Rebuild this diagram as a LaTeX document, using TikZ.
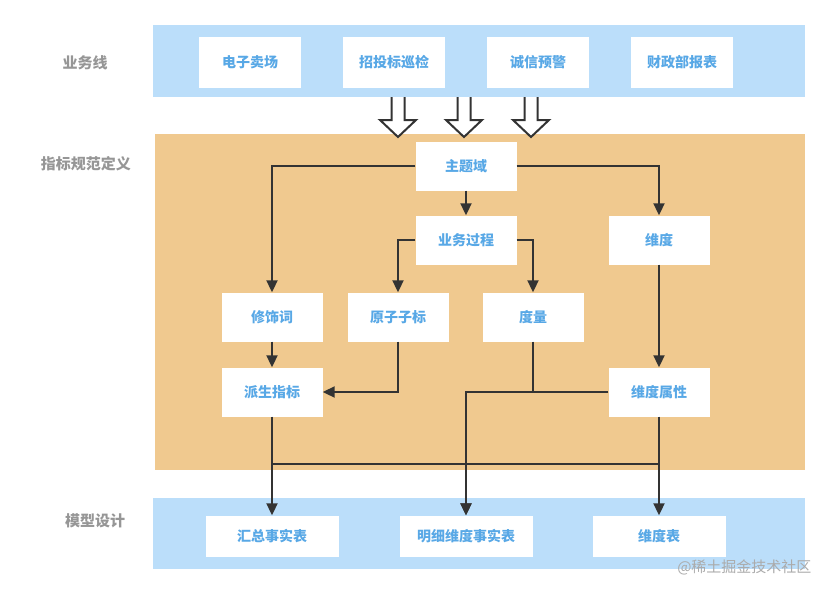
\documentclass[tikz,border=0pt]{standalone}
\usepackage{fontspec}
\setmainfont{Noto Sans CJK SC}
\usepackage{xcolor}
\usetikzlibrary{arrows.meta, calc}

\definecolor{bandblue}{RGB}{187,222,250}
\definecolor{bandorange}{RGB}{240,201,143}
\definecolor{boxtext}{RGB}{88,168,230}
\definecolor{labelgray}{RGB}{150,150,150}
\definecolor{linedark}{RGB}{51,51,51}

\begin{document}
\begin{tikzpicture}[
  x=1pt, y=-1pt,
  font=\fontsize{14}{16}\selectfont\bfseries,
  box/.style={fill=white, text=boxtext, align=center, inner sep=0pt,
              minimum width=101pt, minimum height=49pt},
  srcbox/.style={box, minimum width=102pt, minimum height=51pt},
  tblbox/.style={box, minimum width=133pt, minimum height=41pt},
  layer/.style={text=labelgray, font=\fontsize{15}{17}\selectfont\bfseries},
  arrow/.style={-{Triangle[length=12pt, width=11pt]}, line width=2pt, draw=linedark},
  hollow/.style={fill=white, draw=linedark, line width=2pt},
]
\useasboundingbox (0,0) rectangle (831,595);

% bands
\fill[bandblue] (153,25) rectangle (805,97);
\fill[bandorange] (155,134) rectangle (805,470);
\fill[bandblue] (153,498) rectangle (805,569);

% layer labels
\node[layer] (lbiz) at (85,63) {业务线};
\node[layer] (lspec) at (86,164) {指标规范定义};
\node[layer] (lmodel) at (95,521) {模型设计};

% business lines
\node[srcbox] (mall) at (250,62) {电子卖场};
\node[srcbox] (tender) at (394,62) {招投标巡检};
\node[srcbox] (credit) at (538,62) {诚信预警};
\node[srcbox] (report) at (682,62) {财政部报表};

% hollow arrows
\foreach \x in {398,464,531}
  \filldraw[hollow] (\x-6.5,97) -- (\x-6.5,120) -- (\x-18,120) -- (\x,137)
    -- (\x+18,120) -- (\x+6.5,120) -- (\x+6.5,97);

% spec layer
\node[box] (topic) at (466,166) {主题域};
\node[box] (process) at (466,240) {业务过程};
\node[box] (dim) at (659,240) {维度};
\node[box] (modifier) at (272,317) {修饰词};
\node[box] (atomic) at (398,317) {原子子标};
\node[box] (measure) at (533,317) {度量};
\node[box] (derived) at (272,392) {派生指标};
\node[box] (dimattr) at (659,392) {维度属性};

% model layer
\node[tblbox] (summary) at (272,536) {汇总事实表};
\node[tblbox] (detail) at (466,536) {明细维度事实表};
\node[tblbox] (dimtable) at (659,536) {维度表};

\coordinate (busl) at (272,464);
\coordinate (busr) at (659,464);

\draw[arrow] (topic.west) -| (modifier.north);
\draw[arrow] (topic.east) -| (dim.north);
\draw[arrow] (topic) -- (process);
\draw[arrow] (process.west) -| (atomic.north);
\draw[arrow] (process.east) -| (measure.north);
\draw[arrow] (modifier) -- (derived);
\draw[arrow] (atomic.south) |- (derived.east);
\draw[arrow] (dim) -- (dimattr);
\draw[arrow] (measure.south) |- (detail.north |- dimattr.west) -- (detail.north);
\draw[arrow] (dimattr.west) -| (detail.north);
\draw[arrow] (derived.south) |- (busr) -- (dimtable.north);
\draw[arrow] (dimattr.south) |- (busl) -- (summary.north);

% watermark
\node[text=labelgray!80, font=\fontsize{15}{17}\selectfont, anchor=east] (mark) at (815,567) {@稀土掘金技术社区};
\end{tikzpicture}
\end{document}
